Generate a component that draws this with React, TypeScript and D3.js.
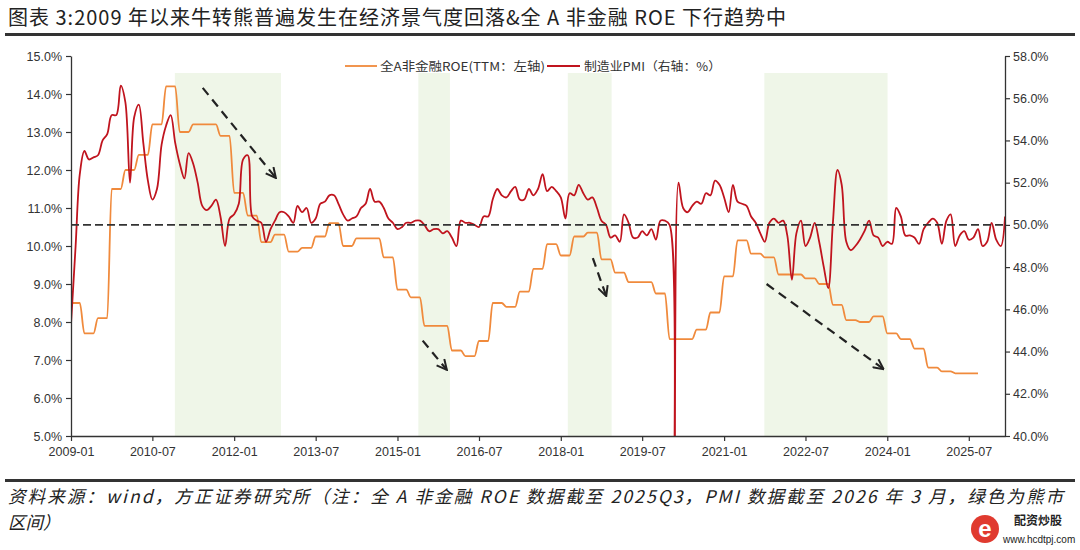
import React, { useEffect, useRef } from 'react';
import * as d3 from 'd3';

// 全A非金融ROE(TTM)，季度值，自 2009Q1 起（%）
const roeStart = '2009-01';
const roeValues = [
  8.5, 7.7, 8.1, 11.5,
  12.0, 12.4, 13.2, 14.2,
  13.0, 13.2, 13.2, 12.9,
  11.4, 10.8, 10.1, 10.3,
  9.85, 9.95, 10.25, 10.6,
  10.0, 10.2, 10.2, 9.7,
  8.85, 8.65, 7.9, 7.9,
  7.25, 7.1, 7.5, 8.5,
  8.4, 8.8, 9.4, 10.05,
  9.75, 10.25, 10.35, 9.65,
  9.3, 9.05, 9.05, 8.75,
  7.55, 7.55, 7.8, 8.25,
  9.2, 10.15, 9.8, 9.7,
  9.25, 9.25, 9.15, 9.0,
  8.45, 8.05, 8.0, 8.15,
  7.7, 7.55, 7.3, 6.8,
  6.7, 6.65, 6.65,
];

// 制造业PMI，月度值，自 2009-01 起（%）
const pmiStart = '2009-01';
const pmiValues = [
  45.3, 49.0, 52.4, 53.5, 53.1, 53.2, 53.3, 54.0, 54.3, 55.2, 55.2, 56.6,
  55.8, 52.0, 55.1, 55.7, 53.9, 52.1, 51.2, 51.7, 53.8, 54.7, 55.2, 53.9,
  52.9, 52.2, 53.4, 52.9, 52.0, 50.9, 50.7, 50.9, 51.2, 50.4, 49.0, 50.3,
  50.5, 51.0, 53.1, 53.3, 50.4, 50.2, 50.1, 49.2, 49.8, 50.2, 50.6, 50.6,
  50.4, 50.1, 50.9, 50.6, 50.8, 50.1, 50.3, 51.0, 51.1, 51.4, 51.4, 51.0,
  50.5, 50.2, 50.3, 50.4, 50.8, 51.0, 51.7, 51.1, 51.1, 50.8, 50.3, 50.1,
  49.8, 49.9, 50.1, 50.1, 50.2, 50.2, 50.0, 49.7, 49.8, 49.8, 49.6, 49.7,
  49.4, 49.0, 50.2, 50.1, 50.1, 50.0, 49.9, 50.4, 50.4, 51.2, 51.7, 51.4,
  51.3, 51.6, 51.8, 51.2, 51.2, 51.7, 51.4, 51.7, 52.4, 51.6, 51.8, 51.6,
  51.3, 50.3, 51.5, 51.4, 51.9, 51.5, 51.2, 51.3, 50.8, 50.2, 50.0, 49.4,
  49.5, 49.2, 50.5, 50.1, 49.4, 49.4, 49.7, 49.5, 49.8, 49.3, 50.2, 50.2,
  50.0, 35.7, 52.0, 50.8, 50.6, 50.9, 51.1, 51.0, 51.5, 51.4, 52.1, 51.9,
  51.3, 50.6, 51.9, 51.1, 51.0, 50.9, 50.4, 50.1, 49.6, 49.2, 50.1, 50.3,
  50.1, 50.2, 49.5, 47.4, 49.6, 50.2, 49.0, 49.4, 50.1, 49.2, 48.0, 47.0,
  50.1, 52.6, 51.9, 49.2, 48.8, 49.0, 49.3, 49.7, 50.2, 49.5, 49.4, 49.0,
  49.2, 49.1, 50.8, 50.4, 49.5, 49.5, 49.4, 49.1, 49.8, 50.1, 50.3, 50.1,
  49.1, 50.2, 50.5, 49.0, 49.5, 49.7, 49.3, 49.4, 49.8, 49.0, 49.2, 50.1,
  49.3, 49.0, 50.4,
];

const xDomain = ['2009-01', '2026-03'];
const xTicks = [
  '2009-01', '2010-07', '2012-01', '2013-07', '2015-01', '2016-07',
  '2018-01', '2019-07', '2021-01', '2022-07', '2024-01', '2025-07',
];
const leftTicks = [5, 6, 7, 8, 9, 10, 11, 12, 13, 14, 15];
const rightTicks = [40, 42, 44, 46, 48, 50, 52, 54, 56, 58];
const pmiBaseline = 50;

// 熊市区间（绿色底纹）
const bearRanges: [string, string][] = [
  ['2010-11-29', '2012-11-10'],
  ['2015-05-21', '2015-12-19'],
  ['2018-02-17', '2018-12-08'],
  ['2021-09-28', '2024-01-03'],
];

// 下行趋势箭头，坐标按左轴 ROE 取值
const arrowFrom: [string, number][] = [
  ['2011-06-04', 14.16], ['2015-06-19', 7.51], ['2018-08-04', 9.68], ['2021-10-13', 9.0],
];
const arrowTo: [string, number][] = [
  ['2012-10-07', 11.79], ['2015-11-28', 6.74], ['2018-11-02', 8.68], ['2023-12-07', 6.76],
];

const title = '图表 3:2009 年以来牛转熊普遍发生在经济景气度回落&全 A 非金融 ROE 下行趋势中';
const legendLabels = ['全A非金融ROE(TTM：左轴)', '制造业PMI（右轴：%）'];
const sourceLines = [
  '资料来源：wind，方正证券研究所（注：全 A 非金融 ROE 数据截至 2025Q3，PMI 数据截至 2026 年 3 月，绿色为熊市',
  '区间）',
];

const ROE_COLOR = '#F08A3C';
const PMI_COLOR = '#C0141E';
const BEAR_FILL = '#EFF6E8';
const AXIS_FONT = '"Liberation Sans", Arial, sans-serif';
const CJK_FONT = '"Noto Sans CJK SC", "Noto Sans", sans-serif';

const App: React.FC = () => {
  const svgRef = useRef<SVGSVGElement | null>(null);

  useEffect(() => {
    if (!svgRef.current) return;
    const width = 1080;
    const height = 550;
    const margin = { top: 56, right: 75, bottom: 114, left: 71 };
    const plotTop = margin.top;
    const plotBottom = height - margin.bottom;
    const plotLeft = margin.left;
    const plotRight = width - margin.right;

    const parseMonth = d3.timeParse('%Y-%m');
    const parseDay = d3.timeParse('%Y-%m-%d');

    const svg = d3.select(svgRef.current);
    svg.selectAll('*').remove();
    svg.attr('width', width).attr('height', height).attr('viewBox', `0 0 ${width} ${height}`);

    svg.append('rect').attr('width', width).attr('height', height).attr('fill', '#fff');

    // 标题与分隔线
    svg.append('text')
      .attr('x', 8).attr('y', 25)
      .attr('font-family', CJK_FONT).attr('font-size', 20).attr('fill', '#222')
      .attr('textLength', 778).attr('lengthAdjust', 'spacing')
      .text(title);
    svg.append('rect').attr('x', 5).attr('y', 33).attr('width', 1070).attr('height', 3).attr('fill', '#333');

    // 数据整理
    const pmiDate0 = parseMonth(pmiStart)!;
    const pmiData = pmiValues.map((v, i) => ({ date: d3.timeMonth.offset(pmiDate0, i), value: v }));
    const roeDate0 = parseMonth(roeStart)!;
    const roeData = roeValues.flatMap((v, q) =>
      [0, 1, 2].map(k => ({ date: d3.timeMonth.offset(roeDate0, q * 3 + k), value: v })));

    // 比例尺
    const x = d3.scaleTime()
      .domain([parseMonth(xDomain[0])!, parseMonth(xDomain[1])!])
      .range([plotLeft, plotRight]);
    const yL = d3.scaleLinear().domain([5, 15]).range([plotBottom, plotTop]);
    const yR = d3.scaleLinear().domain([40, 58]).range([plotBottom, plotTop]);

    // 熊市区间
    svg.append('g')
      .selectAll('rect')
      .data(bearRanges)
      .join('rect')
      .attr('x', d => x(parseDay(d[0])!))
      .attr('width', d => x(parseDay(d[1])!) - x(parseDay(d[0])!))
      .attr('y', 73)
      .attr('height', plotBottom - 73)
      .attr('fill', BEAR_FILL);

    svg.append('defs').append('clipPath').attr('id', 'plot-clip')
      .append('rect')
      .attr('x', plotLeft).attr('y', plotTop - 10)
      .attr('width', plotRight - plotLeft).attr('height', plotBottom - plotTop + 10);

    // ROE 折线
    const roeLine = d3.line<{ date: Date; value: number }>()
      .x(d => x(d.date))
      .y(d => yL(d.value))
      .curve(d3.curveMonotoneX);
    svg.append('path')
      .datum(roeData)
      .attr('d', roeLine)
      .attr('fill', 'none')
      .attr('stroke', ROE_COLOR)
      .attr('stroke-width', 1.8)
      .attr('clip-path', 'url(#plot-clip)');

    // PMI 折线（平滑）
    const pmiLine = d3.line<{ date: Date; value: number }>()
      .x(d => x(d.date))
      .y(d => yR(d.value))
      .curve(d3.curveCatmullRom.alpha(0.5));
    svg.append('path')
      .datum(pmiData)
      .attr('d', pmiLine)
      .attr('fill', 'none')
      .attr('stroke', PMI_COLOR)
      .attr('stroke-width', 1.8)
      .attr('clip-path', 'url(#plot-clip)');

    // PMI 50 荣枯线
    svg.append('line')
      .attr('x1', plotLeft).attr('x2', plotRight)
      .attr('y1', yR(pmiBaseline)).attr('y2', yR(pmiBaseline))
      .attr('stroke', '#333').attr('stroke-width', 1.8)
      .attr('stroke-dasharray', '8,4');

    // 虚线箭头
    svg.select('defs').append('marker')
      .attr('id', 'arrow-head')
      .attr('viewBox', '0 0 12 12')
      .attr('refX', 11).attr('refY', 6)
      .attr('markerWidth', 12).attr('markerHeight', 12)
      .attr('markerUnits', 'userSpaceOnUse')
      .attr('orient', 'auto')
      .append('path')
      .attr('d', 'M1,1 L11,6 L1,11')
      .attr('fill', 'none').attr('stroke', '#222').attr('stroke-width', 2);

    svg.append('g')
      .selectAll('line')
      .data(arrowFrom.map((f, i) => ({ from: f, to: arrowTo[i] })))
      .join('line')
      .attr('x1', d => x(parseDay(d.from[0])!))
      .attr('y1', d => yL(d.from[1]))
      .attr('x2', d => x(parseDay(d.to[0])!))
      .attr('y2', d => yL(d.to[1]))
      .attr('stroke', '#222')
      .attr('stroke-width', 2.2)
      .attr('stroke-dasharray', '9,6')
      .attr('marker-end', 'url(#arrow-head)');

    // 坐标轴
    const styleAxis = (g: d3.Selection<SVGGElement, unknown, null, undefined>) => {
      g.select('.domain').attr('stroke', '#333').attr('stroke-width', 1.3);
      g.selectAll('.tick line').attr('stroke', '#333').attr('stroke-width', 1.2);
      g.selectAll('.tick text')
        .attr('fill', '#333')
        .attr('font-family', AXIS_FONT)
        .attr('font-size', 12.5);
    };

    svg.append('g')
      .attr('transform', `translate(${plotLeft},0)`)
      .call(d3.axisLeft(yL).tickValues(leftTicks).tickFormat(d => `${(+d).toFixed(1)}%`)
        .tickSize(5).tickSizeOuter(0).tickPadding(4))
      .call(styleAxis);

    svg.append('g')
      .attr('transform', `translate(${plotRight},0)`)
      .call(d3.axisRight(yR).tickValues(rightTicks).tickFormat(d => `${(+d).toFixed(1)}%`)
        .tickSize(5).tickSizeOuter(0).tickPadding(3))
      .call(styleAxis);

    svg.append('g')
      .attr('transform', `translate(0,${plotBottom})`)
      .call(d3.axisBottom(x).tickValues(xTicks.map(t => parseMonth(t)!))
        .tickFormat(d => d3.timeFormat('%Y-%m')(d as Date))
        .tickSize(5).tickSizeOuter(0).tickPadding(6))
      .call(styleAxis);

    // 图例
    const legendY = 66;
    const legend = svg.append('g');
    legend.append('line').attr('x1', 345).attr('x2', 377).attr('y1', legendY).attr('y2', legendY)
      .attr('stroke', ROE_COLOR).attr('stroke-width', 1.8);
    legend.append('text').attr('x', 380).attr('y', legendY + 4.5)
      .attr('font-family', CJK_FONT).attr('font-size', 12).attr('fill', '#333')
      .attr('textLength', 165).attr('lengthAdjust', 'spacingAndGlyphs')
      .text(legendLabels[0]);
    legend.append('line').attr('x1', 547).attr('x2', 580).attr('y1', legendY).attr('y2', legendY)
      .attr('stroke', PMI_COLOR).attr('stroke-width', 1.8);
    legend.append('text').attr('x', 584).attr('y', legendY + 4.5)
      .attr('font-family', CJK_FONT).attr('font-size', 12).attr('fill', '#333')
      .attr('textLength', 137).attr('lengthAdjust', 'spacingAndGlyphs')
      .text(legendLabels[1]);

    // 资料来源
    svg.append('rect').attr('x', 5).attr('y', 479).attr('width', 1070).attr('height', 3).attr('fill', '#333');
    svg.append('text')
      .attr('x', 8).attr('y', 503)
      .attr('font-family', CJK_FONT).attr('font-size', 17.5).attr('font-style', 'italic')
      .attr('fill', '#222')
      .attr('textLength', 1055).attr('lengthAdjust', 'spacing')
      .text(sourceLines[0]);
    svg.append('text')
      .attr('x', 8).attr('y', 529)
      .attr('font-family', CJK_FONT).attr('font-size', 17.5).attr('font-style', 'italic')
      .attr('fill', '#222')
      .text(sourceLines[1]);

    // 右下角标识
    const logo = svg.append('g');
    logo.append('circle').attr('cx', 985).attr('cy', 529).attr('r', 14).attr('fill', '#E03A2F');
    logo.append('text').attr('x', 985).attr('y', 537).attr('text-anchor', 'middle')
      .attr('font-family', AXIS_FONT).attr('font-weight', 'bold').attr('font-size', 24)
      .attr('fill', '#fff').text('e');
    logo.append('text').attr('x', 1014).attr('y', 525)
      .attr('font-family', CJK_FONT).attr('font-weight', 'bold').attr('font-size', 12)
      .attr('fill', '#222').text('配资炒股');
    logo.append('text').attr('x', 1003).attr('y', 543)
      .attr('font-family', AXIS_FONT).attr('font-size', 10)
      .attr('fill', '#222').text('www.hcdtpj.com');
  }, []);

  return (
    <div style={{ position: 'absolute', left: 0, top: 0, width: 1080, height: 550, background: '#fff' }}>
      <svg ref={svgRef} style={{ display: 'block' }} />
    </div>
  );
};

export default App;
